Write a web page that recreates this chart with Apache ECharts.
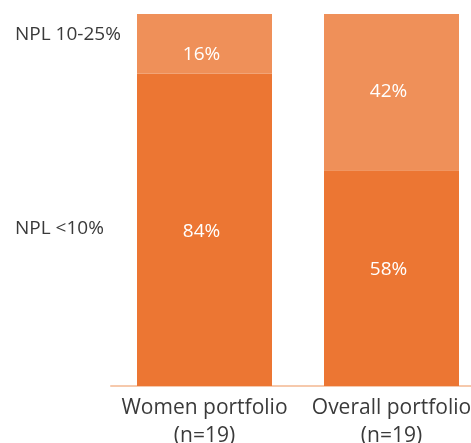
<!DOCTYPE html>
<html>
<head>
<meta charset="utf-8">
<script src="https://cdn.jsdelivr.net/npm/echarts@6/dist/echarts.min.js"></script>
<style>
  html, body { margin: 0; padding: 0; background: #fff; }
  #chart { width: 471px; height: 443px; }
</style>
</head>
<body>
<div id="chart"></div>
<script>
// Portfolio share by NPL band
const categories = ['Women portfolio\n(n=19)', 'Overall portfolio\n(n=19)'];
const seriesNames = ['NPL <10%', 'NPL 10-25%'];
const nplUnder10 = [84, 58];
const npl10to25 = [16, 42];

const FONT = 'Open Sans';
const colors = ['#EC7633', '#EF9059'];

const chart = echarts.init(document.getElementById('chart'), null, { renderer: 'canvas' });

function makeSeries(name, data, color, offsets) {
  return {
    name: name,
    type: 'bar',
    stack: 'total',
    barWidth: 135,
    itemStyle: { color: color },
    data: data.map((v, i) => ({
      value: v,
      label: { offset: offsets[i] }
    })),
    label: {
      show: true,
      position: 'inside',
      color: '#ffffff',
      fontFamily: FONT,
      fontSize: 19,
      formatter: p => p.value + '%'
    }
  };
}

chart.setOption({
  animation: false,
  grid: { left: 111, top: 14, width: 374, bottom: 57, containLabel: false, outerBoundsMode: 'none' },
  xAxis: {
    type: 'category',
    data: categories,
    axisLine: { show: true, lineStyle: { color: '#F6C9AC', width: 2 } },
    axisTick: { show: false },
    axisLabel: {
      interval: 0,
      hideOverlap: false,
      color: '#3a3a3a',
      fontFamily: FONT,
      fontSize: 21,
      lineHeight: 28,
      margin: 8
    }
  },
  yAxis: {
    type: 'value',
    min: 0,
    max: 100,
    show: false
  },
  series: [
    makeSeries(seriesNames[0], nplUnder10, colors[0], [[-3, 2], [-3, -9]]),
    makeSeries(seriesNames[1], npl10to25, colors[1], [[-3, 11], [-3, -1]])
  ],
  graphic: [
    {
      type: 'text', left: 15, top: 25,
      style: { text: seriesNames[1], fill: '#3a3a3a', font: '19px "' + FONT + '"' }
    },
    {
      type: 'text', left: 15, top: 219,
      style: { text: seriesNames[0], fill: '#3a3a3a', font: '19px "' + FONT + '"' }
    }
  ]
});
</script>
</body>
</html>
